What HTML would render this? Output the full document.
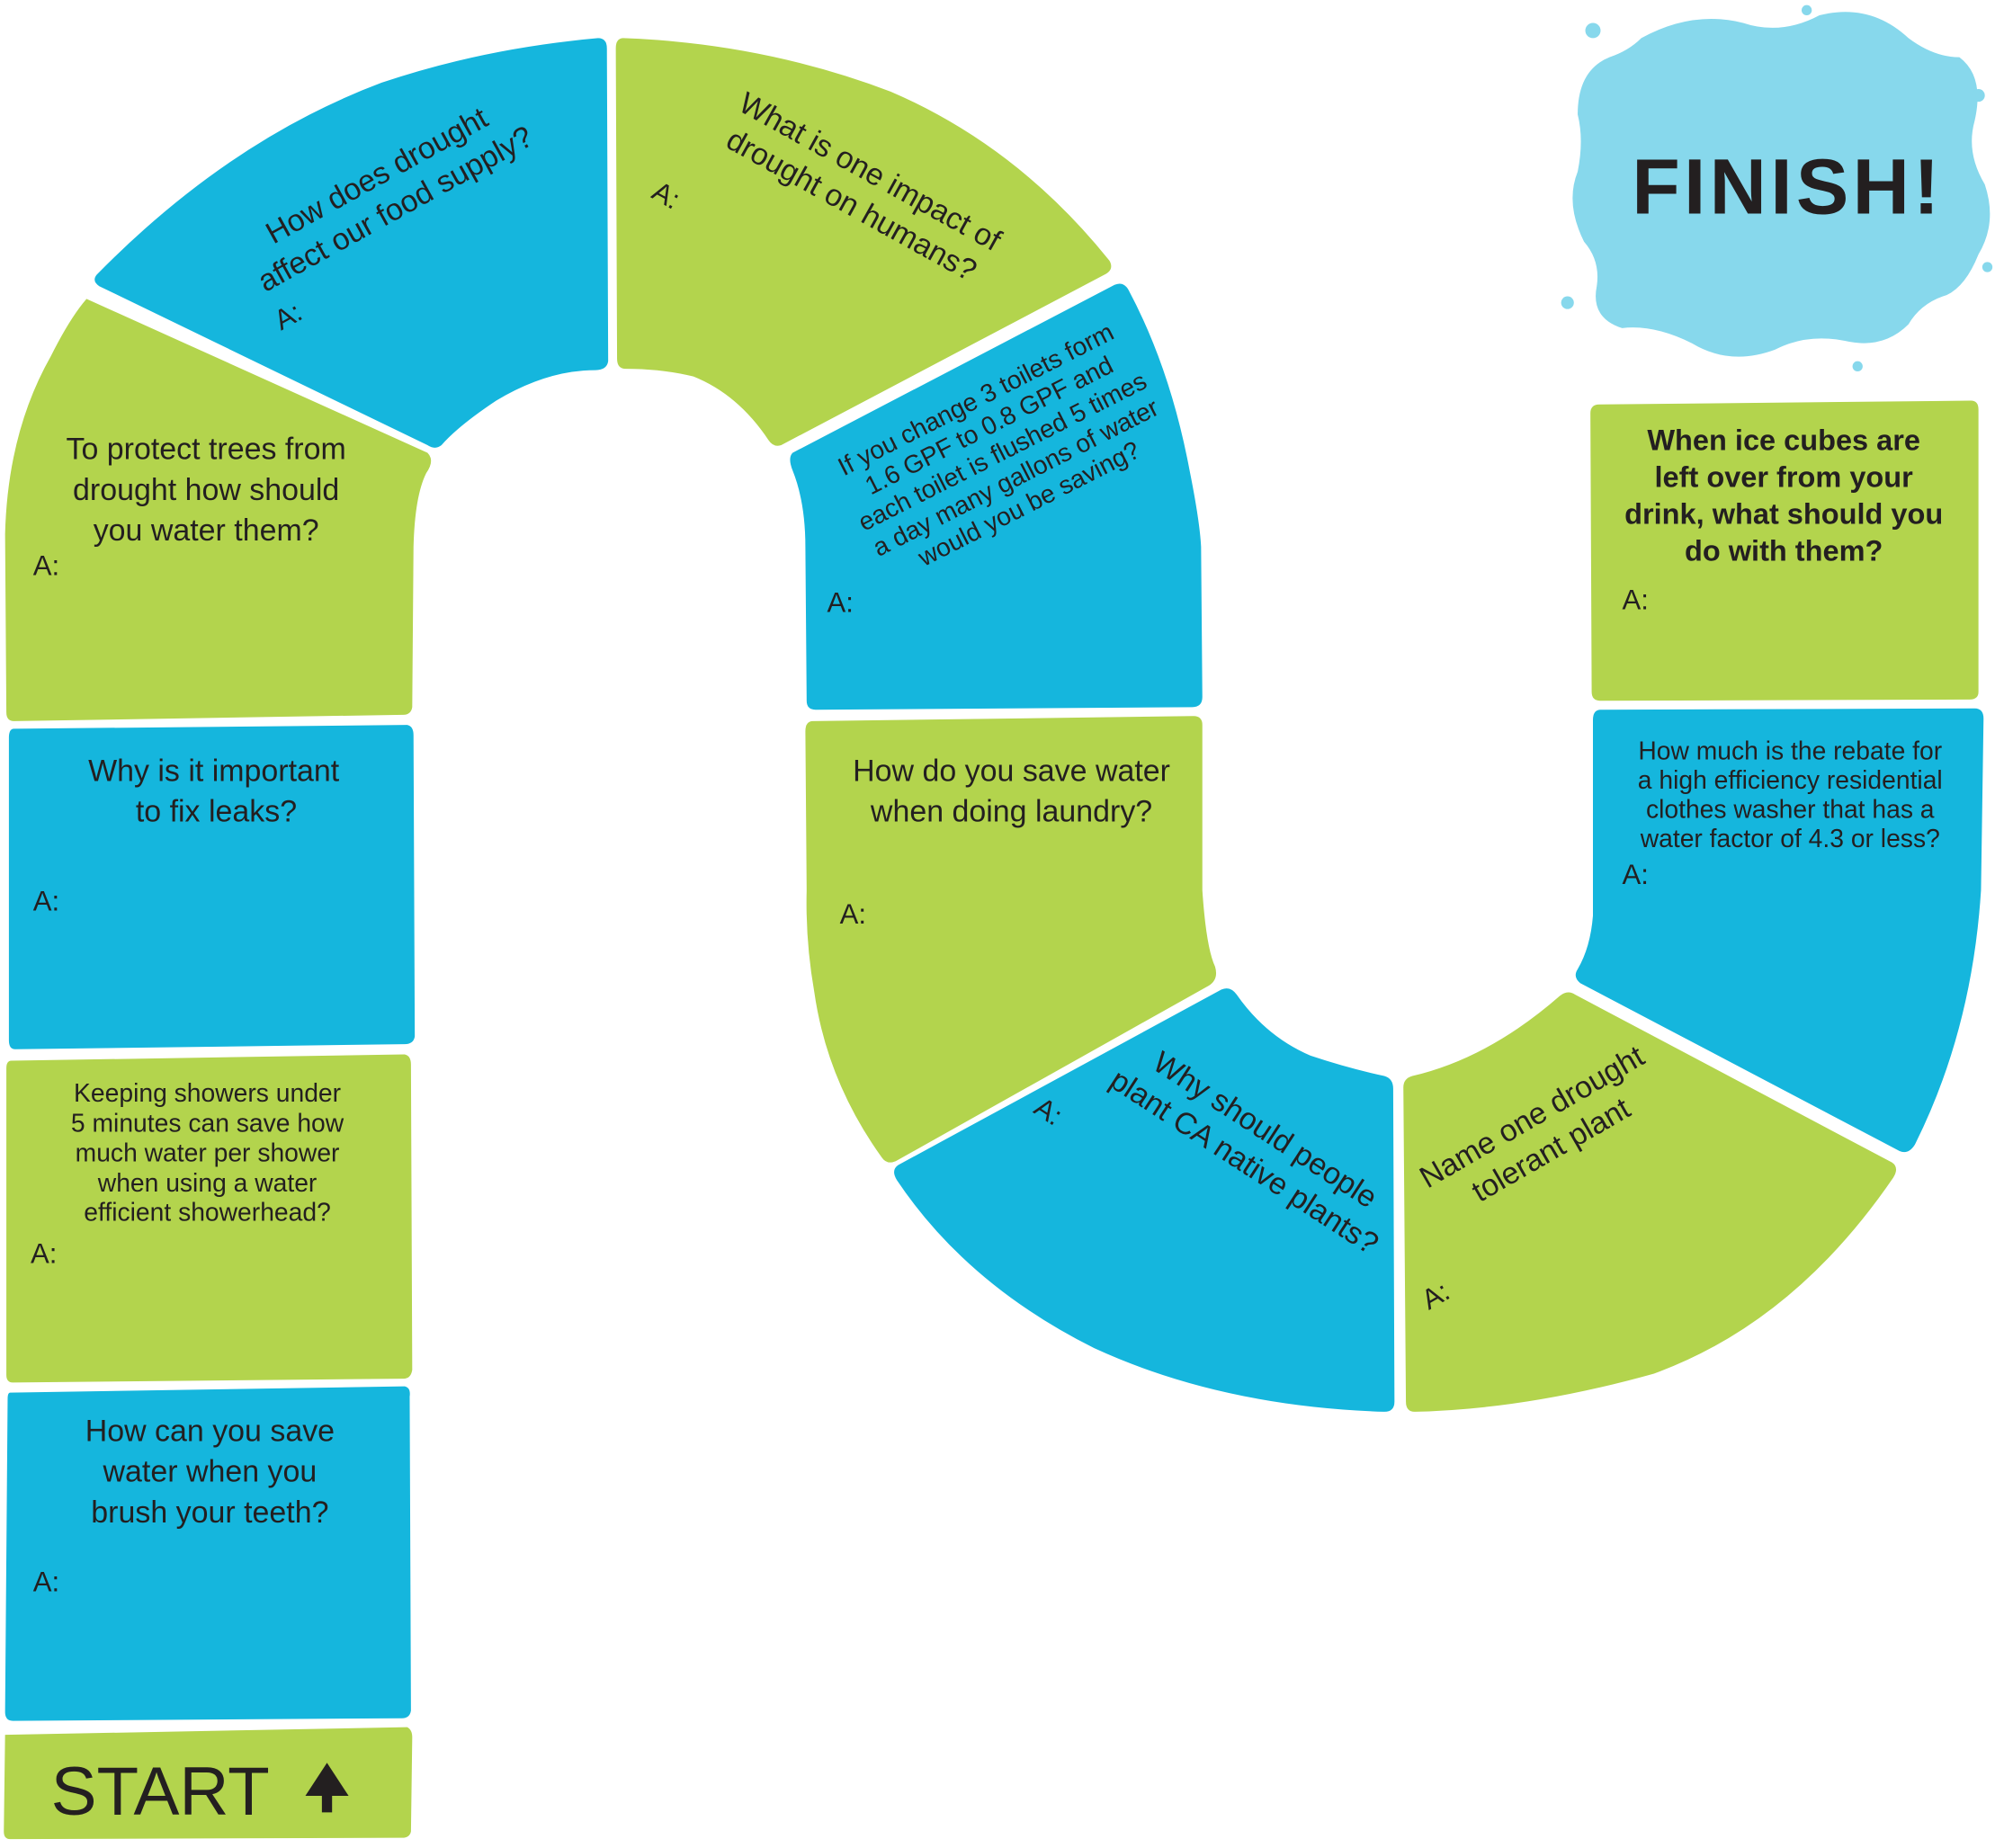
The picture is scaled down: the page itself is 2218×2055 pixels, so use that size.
<!DOCTYPE html>
<html><head><meta charset="utf-8"><style>
html,body{margin:0;padding:0;background:#fff;}
svg{display:block;}
text{font-family:"Liberation Sans",sans-serif;fill:#231f20;}
</style></head><body>
<svg width="2218" height="2055" viewBox="0 0 1568 1453" preserveAspectRatio="none" xmlns="http://www.w3.org/2000/svg">
<g stroke-linejoin="round">
<path d="M4 1364 L320 1358 Q324 1360 324 1366 L323 1440 Q322 1445 316 1445 L8 1446 Q3 1446 3 1440 Z" fill="#b3d44d"/>
<path d="M8 1095 L318 1090 Q323 1091 322 1098 L323 1345 Q322 1351 316 1351 L10 1353 Q4 1353 4 1346 L6 1100 Q6 1095 8 1095 Z" fill="#15b6dd"/>
<path d="M9 834 L318 829 Q323 830 323 837 L324 1077 Q323 1084 317 1084 L10 1087 Q5 1087 5 1081 L5 840 Q5 834 9 834 Z" fill="#b3d44d"/>
<path d="M11 573 L320 570 Q325 571 325 578 L326 815 Q325 821 318 821 L12 825 Q7 825 7 818 L7 580 Q7 573 11 573 Z" fill="#15b6dd"/>
<path d="M68 235 L336 356 Q342 362 335 372 Q326 390 325 430 L324 556 Q323 562 317 562 L11 567 Q5 567 5 560 L4 420 Q6 340 40 280 Q55 250 68 235 Z" fill="#b3d44d"/>
<path d="M76 216 Q180 110 300 65 Q380 38 470 30 Q477 30 477 38 L478 284 Q477 291 468 291 Q430 291 390 315 Q360 335 347 350 Q342 354 336 350 L78 225 Q72 221 76 216 Z" fill="#15b6dd"/>
<path d="M490 30 Q600 34 700 72 Q800 115 872 205 Q876 212 868 216 L614 350 Q608 352 604 346 Q580 310 545 296 Q520 290 492 290 Q485 290 485 282 L484 38 Q484 30 490 30 Z" fill="#b3d44d"/>
<path d="M623 356 L876 224 Q883 221 887 228 Q920 290 935 370 Q943 410 944 430 L945 548 Q945 556 937 556 L641 558 Q634 558 634 551 L633 430 Q633 395 623 370 Q619 360 623 356 Z" fill="#15b6dd"/>
<path d="M639 567 L938 563 Q945 563 945 570 L945 700 Q948 745 955 760 Q958 770 950 775 L704 913 Q697 916 693 910 Q650 850 640 780 Q633 740 634 700 L633 575 Q633 567 639 567 Z" fill="#b3d44d"/>
<path d="M706 916 L960 778 Q967 775 972 782 Q995 815 1030 830 Q1060 840 1088 846 Q1095 848 1095 856 L1096 1102 Q1096 1110 1088 1110 Q960 1106 860 1060 Q760 1010 705 928 Q700 920 706 916 Z" fill="#15b6dd"/>
<path d="M1110 846 Q1170 832 1226 783 Q1232 778 1238 782 L1487 914 Q1493 918 1488 926 Q1410 1040 1300 1080 Q1200 1108 1112 1110 Q1105 1110 1105 1102 L1103 855 Q1103 848 1110 846 Z" fill="#b3d44d"/>
<path d="M1258 558 L1552 557 Q1559 557 1559 565 L1557 700 Q1550 810 1505 900 Q1500 908 1493 905 L1242 773 Q1236 768 1240 762 Q1250 745 1252 720 L1252 566 Q1252 558 1258 558 Z" fill="#15b6dd"/>
<path d="M1257 318 L1549 315 Q1555 315 1555 322 L1555 544 Q1555 550 1548 550 L1258 551 Q1251 551 1251 544 L1250 325 Q1250 318 1257 318 Z" fill="#b3d44d"/>
<path d="M1290 30 Q1330 8 1370 18 Q1400 28 1430 12 Q1470 2 1500 30 Q1520 45 1540 45 Q1560 60 1552 95 Q1545 120 1560 145 Q1570 175 1555 200 Q1545 225 1530 232 Q1510 238 1500 255 Q1480 275 1450 268 Q1420 262 1395 275 Q1360 288 1330 270 Q1300 255 1275 258 Q1250 250 1255 225 Q1258 205 1245 190 Q1230 160 1240 135 Q1245 110 1240 90 Q1240 55 1265 45 Q1280 40 1290 30 Z" fill="#87d8ec"/>
<circle cx="1252" cy="24" r="6" fill="#87d8ec"/><circle cx="1232" cy="238" r="5" fill="#87d8ec"/>
<circle cx="1555" cy="75" r="5" fill="#87d8ec"/><circle cx="1460" cy="288" r="4" fill="#87d8ec"/>
<circle cx="1420" cy="8" r="4" fill="#87d8ec"/><circle cx="1562" cy="210" r="4" fill="#87d8ec"/>
</g>

<text x="1405" y="168" font-size="62" font-weight="bold" text-anchor="middle" letter-spacing="3">FINISH!</text>

<text x="40" y="1427" font-size="54">START</text>
<path d="M257 1386 L240 1412 L253 1412 L253 1425 L261 1425 L261 1412 L274 1412 Z" fill="#231f20"/>

<g font-size="24" text-anchor="middle">
<text x="165" y="1133">How can you save</text>
<text x="165" y="1165">water when you</text>
<text x="165" y="1197">brush your teeth?</text>
<text x="168" y="614">Why is it important</text>
<text x="170" y="646">to fix leaks?</text>
<text x="162" y="361">To protect trees from</text>
<text x="162" y="393">drought how should</text>
<text x="162" y="425">you water them?</text>
<text x="795" y="614">How do you save water</text>
<text x="795" y="646">when doing laundry?</text>
</g>
<g font-size="20" text-anchor="middle">
<text x="163" y="866">Keeping showers under</text>
<text x="163" y="890">5 minutes can save how</text>
<text x="163" y="913">much water per shower</text>
<text x="163" y="937">when using a water</text>
<text x="163" y="960">efficient showerhead?</text>
<text x="1407" y="597">How much is the rebate for</text>
<text x="1407" y="620">a high efficiency residential</text>
<text x="1407" y="643">clothes washer that has a</text>
<text x="1407" y="666">water factor of 4.3 or less?</text>
</g>
<g font-size="23" font-weight="bold" text-anchor="middle">
<text x="1402" y="354">When ice cubes are</text>
<text x="1402" y="383">left over from your</text>
<text x="1402" y="412">drink, what should you</text>
<text x="1402" y="441">do with them?</text>
</g>
<g font-size="22">
<text x="26" y="1251">A:</text>
<text x="26" y="716">A:</text>
<text x="24" y="993">A:</text>
<text x="26" y="452">A:</text>
<text x="660" y="726">A:</text>
<text x="650" y="481">A:</text>
<text x="1275" y="479">A:</text>
<text x="1275" y="695">A:</text>
</g>
<g font-size="24" text-anchor="middle">
<g transform="translate(300,145) rotate(-29)">
<text x="0" y="0">How does drought</text>
<text x="0" y="30">affect our food supply?</text>
</g>
<text transform="translate(230,255) rotate(-29)" font-size="22">A:</text>
<g transform="translate(680,142) rotate(29)">
<text x="0" y="0">What is one impact of</text>
<text x="0" y="30">drought on humans?</text>
</g>
<text transform="translate(520,160) rotate(29)" font-size="22">A:</text>
<g transform="translate(990,895) rotate(33)">
<text x="0" y="0">Why should people</text>
<text x="0" y="30">plant CA native plants?</text>
</g>
<text transform="translate(820,880) rotate(33)" font-size="22">A:</text>
<g transform="translate(1208,885) rotate(-30)">
<text x="0" y="0">Name one drought</text>
<text x="0" y="30">tolerant plant</text>
</g>
<text transform="translate(1132,1025) rotate(-30)" font-size="22">A:</text>
</g>
<g font-size="20" text-anchor="middle" transform="translate(770,320) rotate(-27)">
<text x="0" y="0">If you change 3 toilets form</text>
<text x="0" y="23">1.6 GPF to 0.8 GPF and</text>
<text x="0" y="46">each toilet is flushed 5 times</text>
<text x="0" y="69">a day many gallons of water</text>
<text x="0" y="92">would you be saving?</text>
</g>
</svg>
</body></html>
